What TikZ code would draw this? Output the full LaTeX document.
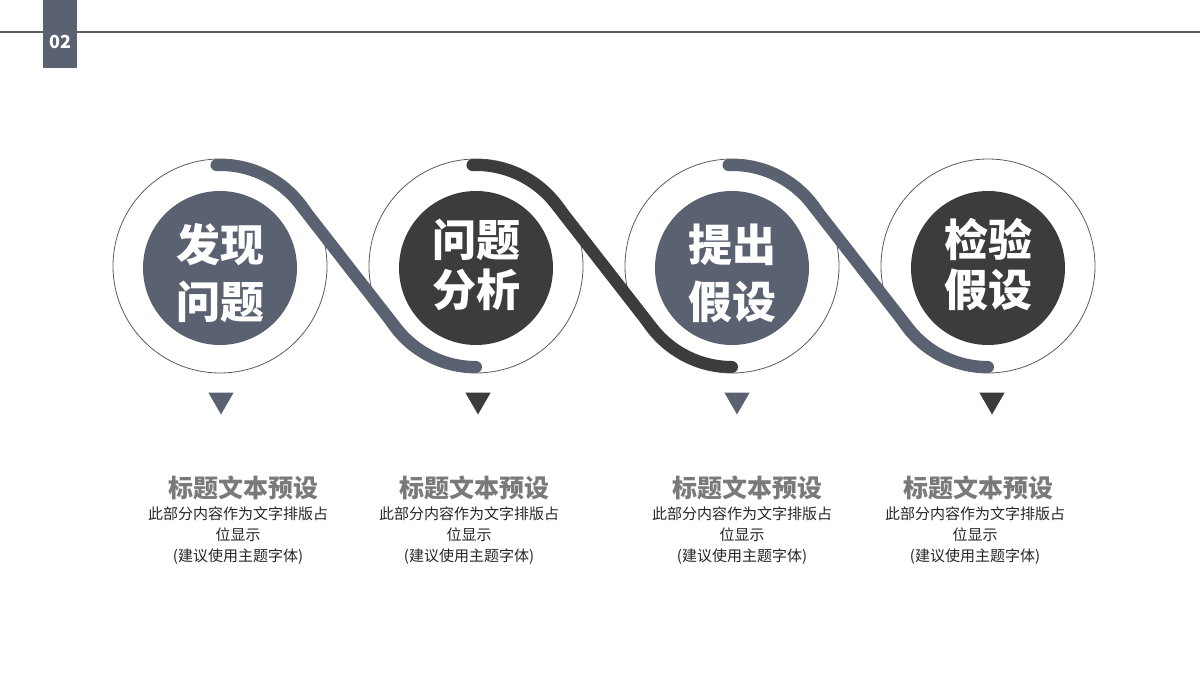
\documentclass[tikz,border=0pt]{standalone}
\usepackage{fontspec}
\setmainfont{Noto Sans CJK SC}
\usetikzlibrary{shapes.geometric,calc,positioning}
\definecolor{slate}{HTML}{5A6272}
\definecolor{darkink}{HTML}{3C3C3E}
\definecolor{headgray}{HTML}{7A7A7A}
\definecolor{rulegray}{HTML}{5C5C5C}
\tikzset{
  ring/.style={circle,draw=rulegray,line width=0.8pt,minimum size=214pt,inner sep=0pt},
  disc/.style={circle,fill=#1,minimum size=154pt,inner sep=0pt},
  band/.style={line width=12pt,line cap=round,draw=#1},
  tri/.style={regular polygon,regular polygon sides=3,shape border rotate=180,fill=#1,minimum size=29pt,inner sep=0pt},
  headtxt/.style={text=headgray,font=\fontsize{25}{30}\selectfont\bfseries},
  bodytxt/.style={align=center,text=black!85,font=\fontsize{15}{21}\selectfont},
}
\begin{document}
\begin{tikzpicture}[x=1pt,y=1pt,line join=round]
  \useasboundingbox (0,0) rectangle (1200,675);
  % header rule and tag
  \draw[rulegray,line width=2pt] (0,643)--(1200,643);
  \node[fill=slate,minimum width=34pt,minimum height=68pt,inner sep=0pt] (tag) at (60,641) {};
  \node[text=white,font=\fontsize{18}{20}\selectfont\bfseries] (tagnum) at (60,633) {02};
  % rings, discs and their words
  \foreach \i/\x/\col/\lbl/\dy/\lsk in {1/220/slate/{发现\\问题}/-5/57,2/476/darkink/{问题\\分析}/3/50,3/732/slate/{提出\\假设}/-5/57,4/988/darkink/{检验\\假设}/3/50}{
    \node[ring] (r\i) at (\x,409) {};
    \node[disc=\col] (d\i) at (\x,407) {};
    \node[text=white,align=center,font={\fontsize{44}{\lsk}\selectfont\bfseries}] (t\i) at ([yshift=\dy]d\i.center) {\lbl};
  }
  % the winding band
  \foreach \a/\b/\col in {1/2/slate,2/3/darkink,3/4/slate}
    \draw[band=\col] ($(r\a.center)+(92:101)$) arc[start angle=92,end angle=38,radius=101]
      -- ($(r\b.center)+(218:101)$) arc[start angle=218,end angle=270,radius=101];
  % markers and captions
  \foreach \i/\m/\col/\hx/\bx in {1/221/slate/243/238,2/478/darkink/474/469,3/737/slate/747/742,4/992/darkink/978/975}{
    \node[tri=\col] (m\i) at (\m,275) {};
    \node[headtxt] (h\i) at (\hx,187) {标题文本预设};
    \node[bodytxt] (b\i) at (\bx,139) {此部分内容作为文字排版占\\位显示\\(建议使用主题字体)};
  }
\end{tikzpicture}
\end{document}
